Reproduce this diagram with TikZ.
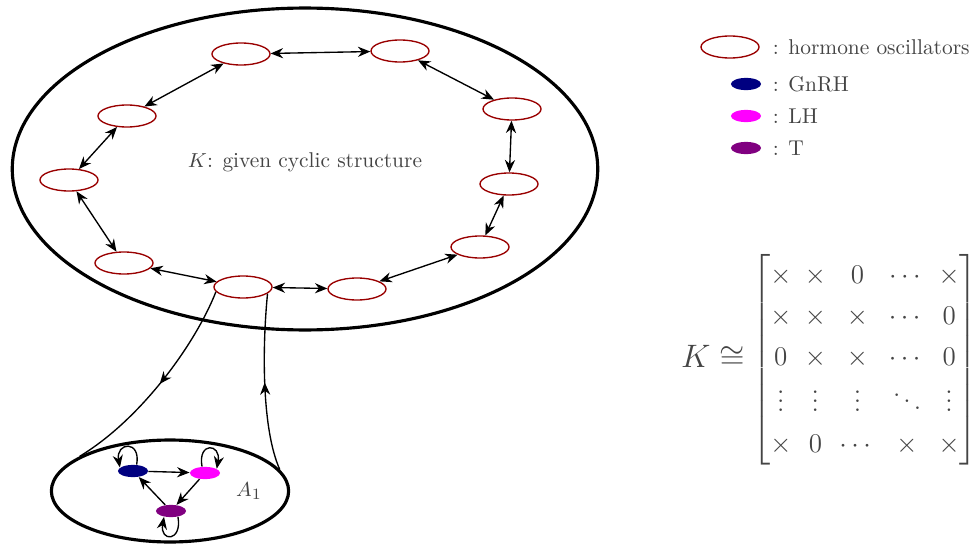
\documentclass[tikz,border=0pt]{standalone}
\usepackage{amsmath,amssymb}
\usepackage{xcolor}
\usepackage{tikz}
\usetikzlibrary{
  shapes.geometric, arrows.meta, positioning,
  decorations.markings
}
\definecolor{oscred}{HTML}{990000}
\definecolor{colorG}{HTML}{000080}
\definecolor{colorL}{HTML}{FF00FF}
\definecolor{colorT}{HTML}{800080}
\definecolor{textcol}{HTML}{444444}

\begin{document}
\begin{tikzpicture}[
  x=0.0156cm, y=-0.0156cm,
  every node/.style={font=\fontsize{9.5}{11.4}\selectfont, text=textcol},
  osc/.style={
    ellipse, draw=oscred, line width=0.6pt,
    minimum width=0.905cm, minimum height=0.343cm, inner sep=0pt
  },
  hormone/.style={ellipse, minimum width=0.47cm, minimum height=0.19cm, inner sep=0pt},
  gnrhbox/.style={hormone, fill=colorG},
  lhbox/.style={hormone, fill=colorL},
  tbox/.style={hormone, fill=colorT},
  region/.style={ellipse, draw, line width=1.4pt, inner sep=0pt},
  biarrow/.style={{Stealth[length=5.5pt,width=4.5pt]}-{Stealth[length=5.5pt,width=4.5pt]},
                  line width=0.6pt},
  arrow/.style={-{Stealth[length=5.5pt,width=4.5pt]}, line width=0.6pt},
  midarrow/.style={line width=0.6pt,
    postaction={decorate, decoration={markings,
      mark=at position 0.5 with {\arrow{Stealth[length=5.5pt,width=4.5pt]}}}}},
  selfloop/.style={arrow, min distance=4mm}
]
\useasboundingbox (0,0) rectangle (980,545);

%% ── Cyclic structure K ───────────────────────────────────────
\node[region, minimum width=9.13cm, minimum height=5.02cm] (K) at (305,169) {};
\node (klabel) at (305,162) {$K$: given cyclic structure};

\node[osc] (osc1)  at (241,54)  {};
\node[osc] (osc2)  at (400,51)  {};
\node[osc] (osc3)  at (512,109) {};
\node[osc] (osc4)  at (127,116) {};
\node[osc] (osc5)  at (69,180)  {};
\node[osc] (osc6)  at (509,184) {};
\node[osc] (osc7)  at (480,247) {};
\node[osc] (osc8)  at (124,263) {};
\node[osc] (osc9)  at (243,287) {};
\node[osc] (osc10) at (357,289) {};

%% ── Ring arrows ──────────────────────────────────────────────
\draw[biarrow] (osc1)  -- (osc2);
\draw[biarrow] (osc2)  -- (osc3);
\draw[biarrow] (osc3)  -- (osc6);
\draw[biarrow] (osc6)  -- (osc7);
\draw[biarrow] (osc7)  -- (osc10);
\draw[biarrow] (osc10) -- (osc9);
\draw[biarrow] (osc9)  -- (osc8);
\draw[biarrow] (osc8)  -- (osc5);
\draw[biarrow] (osc5)  -- (osc4);
\draw[biarrow] (osc4)  -- (osc1);

%% ── Zoomed oscillator A_1 ────────────────────────────────────
\node[region, minimum width=3.70cm, minimum height=1.59cm] (A1) at (170,491) {};
\node (alabel) at (249,491) {$A_1$};

\node[gnrhbox] (gnrh)  at (133,471) {};
\node[lhbox]   (lh)    at (205,473) {};
\node[tbox]    (thorm) at (171,511) {};

\draw[arrow] (gnrh)  -- (lh);
\draw[arrow] (lh)    -- (thorm);
\draw[arrow] (thorm) -- (gnrh);
\draw[selfloop] (gnrh.60)   to[out=80,  in=100]  (gnrh.165);
\draw[selfloop] (lh.115)    to[out=100, in=80]   (lh.20);
\draw[selfloop] (thorm.-40) to[out=-80, in=-100] (thorm.-140);

%% links between osc9 and A1
\draw[midarrow] (osc9.190) .. controls (195,345) and (140,420) .. (A1.159);
\draw[midarrow] (A1.11) .. controls (262,430) and (262,350) .. (osc9.-15);

%% ── Legend ───────────────────────────────────────────────────
\node[osc] (legosc) at (730,47) {};
\node[anchor=west] (legosctxt) at (765,47) {: hormone oscillators};
\node[gnrhbox] (leggnrh) at (746,84)  {};
\node[anchor=west] (leggnrhtxt) at (765,84) {: GnRH};
\node[lhbox]   (leglh)   at (746,116) {};
\node[anchor=west] (leglhtxt) at (765,116) {: LH};
\node[tbox]    (legt)    at (746,148) {};
\node[anchor=west] (legttxt) at (765,148) {: T};

%% ── Matrix of K ──────────────────────────────────────────────
\node (kiso) at (713,357) {\Large $K\cong$};
\node (kmat) at (865,360) {\large\renewcommand{\arraystretch}{1.3}%
  \setlength{\arraycolsep}{3pt}%
  $\begin{bmatrix}
    \times & \times & 0 & \cdots & \times \\
    \times & \times & \times & \cdots & 0 \\
    0 & \times & \times & \cdots & 0 \\
    \vdots & \vdots & \vdots & \ddots & \vdots \\
    \times & 0 & \cdots & \times & \times
  \end{bmatrix}$};

\end{tikzpicture}
\end{document}
